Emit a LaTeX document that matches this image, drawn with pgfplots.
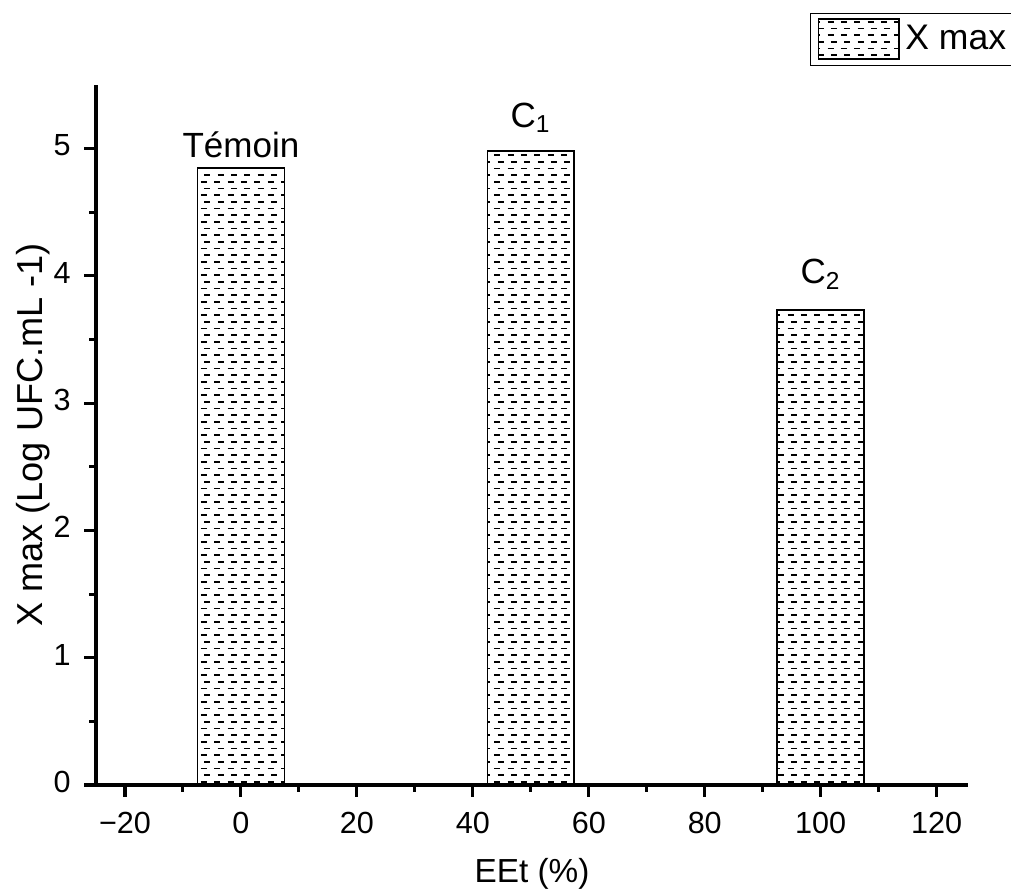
\documentclass[border=0pt]{standalone}
\usepackage{fontspec}
\setmainfont{Liberation Sans}
\usepackage{pgfplots}
\pgfplotsset{compat=1.18}
\usetikzlibrary{patterns}

% rows of short horizontal dashes, every other row shifted a little
\pgfdeclarepatternformonly{hdash}{\pgfpoint{-0.5pt}{-0.5pt}}{\pgfpoint{5.3pt}{5.3pt}}{\pgfpoint{4.8pt}{4.8pt}}{%
  \pgfsetlinewidth{0.6pt}%
  \pgfpathmoveto{\pgfpoint{0.3pt}{1.2pt}}\pgfpathlineto{\pgfpoint{2.46pt}{1.2pt}}%
  \pgfpathmoveto{\pgfpoint{1.5pt}{3.6pt}}\pgfpathlineto{\pgfpoint{3.66pt}{3.6pt}}%
  \pgfusepath{stroke}}

\begin{document}
\begin{tikzpicture}
\begin{axis}[
  scale only axis, width=313.9pt, height=252pt,
  xmin=-25, xmax=125.4, ymin=0, ymax=5.5,
  axis lines=left, axis line style={-, line width=1.1pt},
  tick align=outside, major tick length=4.3pt, minor tick length=2.5pt,
  every tick/.style={black, line width=1.1pt},
  xtick={-20,0,...,120},
  xticklabels={−20,0,20,40,60,80,100,120},
  minor x tick num=1,
  ytick={0,1,...,5}, minor y tick num=1,
  /pgf/number format/assume math mode=true,
  tick label style={font=\fontsize{11}{13}\selectfont},
  xticklabel style={anchor=base, inner sep=0pt, yshift=-13.3pt},
  yticklabel style={anchor=mid east, inner sep=0pt, xshift=-4.6pt},
  xlabel={EEt (\%)},
  xlabel style={at={(axis description cs:0.5,0)}, anchor=base, yshift=-35pt,
                font=\fontsize{12}{14}\selectfont},
  ylabel={X max (Log UFC.mL -1)},
  ylabel style={at={(axis description cs:0,0.5)}, anchor=base, yshift=19.4pt,
                font=\fontsize{13}{15}\selectfont},
  legend style={at={(0.819,1.103)}, anchor=north west, draw=black, line width=0.4pt,
                inner xsep=2.5pt, inner ysep=1.8pt,
                font=\fontsize{12.8}{15}\selectfont},
  legend image code/.code={\draw[pattern=hdash, line width=0.6pt] (0pt,-7.2pt) rectangle (29pt,7.2pt);},
  clip=false,
]
\addplot[ybar, bar width=15, draw=black, line width=0.6pt, pattern=hdash,
  point meta=explicit symbolic,
  nodes near coords,
  nodes near coords style={anchor=base, inner sep=0pt, yshift=3.6pt,
                           font=\fontsize{12.6}{15}\selectfont, text=black}]
  coordinates {(0,4.85)[Témoin] (50,4.98)[{\raisebox{5pt}{C\textsubscript{1}}}] (100,3.73)[{\raisebox{6pt}{C\textsubscript{2}}}]};
\legend{X max}
\coordinate (O) at (rel axis cs:0,0);
\end{axis}
\pgfresetboundingbox
\path[use as bounding box] (O) ++(-34.56pt,-38.52pt) rectangle ++(363.96pt,321.12pt);
\end{tikzpicture}
\end{document}
